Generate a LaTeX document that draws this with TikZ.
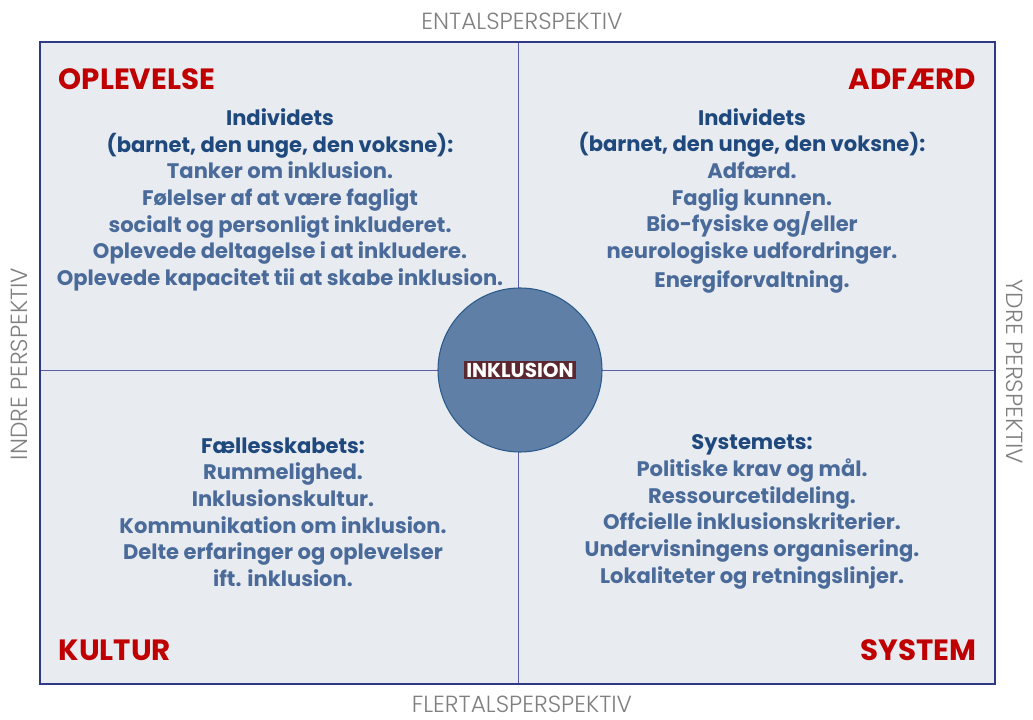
\documentclass[tikz,border=0pt]{standalone}
\usepackage{fontspec}
\setmainfont{Poppins}[BoldFont={Poppins Bold}]
\newfontfamily\titlefont{Poppins Bold}
\newfontfamily\axisfont{Poppins Light}
\usepackage{xcolor}
\definecolor{frameblue}{HTML}{2E3A87}
\definecolor{gridline}{HTML}{5B5EA6}
\definecolor{panel}{HTML}{E8EBF0}
\definecolor{titlered}{HTML}{C00000}
\definecolor{headblue}{HTML}{1F497D}
\definecolor{itemblue}{HTML}{4A6B9A}
\definecolor{hubfill}{HTML}{5F7FA6}
\definecolor{hubedge}{HTML}{2B5B8C}
\definecolor{hubtag}{HTML}{5C2830}
\definecolor{axisgray}{HTML}{808080}
\tikzset{>=latex}

\begin{document}
\begin{tikzpicture}[x=0.75pt, y=-0.75pt,
  axis/.style={text=axisgray, inner sep=0, font=\axisfont\fontsize{17.5}{17.5}\selectfont},
  quadtitle/.style={text=titlered, font=\titlefont\fontsize{22}{22}\selectfont},
  quadtext/.style={text=itemblue, align=center, font=\bfseries\fontsize{15.8}{20}\selectfont}]
\useasboundingbox (0,0) rectangle (1033,720);
\fill[panel] (40,42) rectangle (995,684);
\draw[gridline] (518,42)--(518,684);
\draw[gridline] (40,370)--(995,370);
\draw[frameblue, line width=2] (40,42) rectangle (995,684);
\node[axis] (ental) at (522,21) {ENTALSPERSPEKTIV};
\node[axis] (flertal) at (522,704) {FLERTALSPERSPEKTIV};
\node[axis, rotate=90] (indre) at (19,364) {INDRE PERSPEKTIV};
\node[axis, rotate=-90] (ydre) at (1015,372) {YDRE PERSPEKTIV};
\node[quadtitle, anchor=west] (oplevelse) at (54,79) {OPLEVELSE};
\node[quadtitle, anchor=east] (adfaerd) at (981,79) {ADFÆRD};
\node[quadtitle, anchor=west] (kultur) at (54,650) {KULTUR};
\node[quadtitle, anchor=east] (system) at (981,650) {SYSTEM};
\node[quadtext] (oplevelsetext) at (280,200) {{\color{headblue}Individets}\\
  {\color{headblue}(barnet, den unge, den voksne):}\\
  Tanker om inklusion.\\
  Følelser af at være fagligt\\
  socialt og personligt inkluderet.\\
  Oplevede deltagelse i at inkludere.\\
  Oplevede kapacitet tii at skabe inklusion.};
\node[quadtext] (adfaerdtext) at (752,201) {{\color{headblue}Individets}\\
  {\color{headblue}(barnet, den unge, den voksne):}\\
  Adfærd.\\
  Faglig kunnen.\\
  Bio-fysiske og/eller\\
  neurologiske udfordringer.\\[2pt]
  Energiforvaltning.};
\node[quadtext] (kulturtext) at (283,512) {{\color{headblue}Fællesskabets:}\\
  Rummelighed.\\
  Inklusionskultur.\\
  Kommunikation om inklusion.\\
  Delte erfaringer og oplevelser\\
  ift. inklusion.};
\node[quadtext] (systemtext) at (752,512) {{\color{headblue}Systemets:}\\
  Politiske krav og mål.\\
  Ressourcetildeling.\\
  Offcielle inklusionskriterier.\\
  Undervisningens organisering.\\
  Lokaliteter og retningslinjer.};
\node[circle, fill=hubfill, draw=hubedge, line width=0.8, minimum size=123pt] (hub) at (520,370) {};
\node[fill=hubtag, text=white, inner xsep=2, inner ysep=1.5, font=\titlefont\fontsize{15}{15}\selectfont] (inklusion) at (hub) {INKLUSION};
\end{tikzpicture}
\end{document}
